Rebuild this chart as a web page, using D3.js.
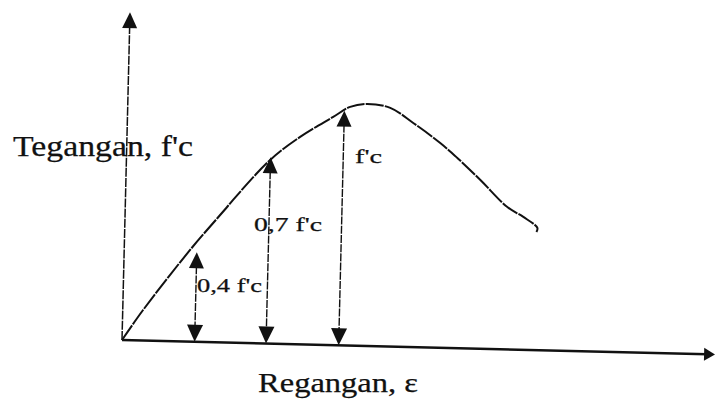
<!DOCTYPE html>
<html><head><meta charset="utf-8">
<script src="https://cdn.jsdelivr.net/npm/d3@7"></script>
<style>html,body{margin:0;padding:0;background:#fff;}svg{display:block;}</style>
</head><body>
<svg id="c" width="715" height="404"></svg>
<script>
// curve: strain (‰-like units) vs stress (fraction of f'c)
const strain = [0, 0.168, 0.544, 0.841, 0.889, 1.187, 1.430, 1.699, 1.837, 1.977, 2.168, 2.361, 2.588, 2.732, 2.927, 3.155, 3.289, 3.407, 3.40];
const stress = [0, 0.126, 0.379, 0.560, 0.590, 0.759, 0.857, 0.943, 0.986, 1.000, 0.986, 0.926, 0.846, 0.786, 0.697, 0.588, 0.549, 0.505, 0.488];
// vertical arrows
const arrowStrain = [0.60, 1.19, 1.79];
const arrowStress = [0.37, 0.77, 0.97];
const arrowLabels = ["0,4 f'c", "0,7 f'c", "f'c"];
// axis extents and titles
const axisMax = {strain: 4.9, stress: 1.355};
const yTitle = "Tegangan, f'c";
const xTitle = "Regangan, \u03b5";

const svg = d3.select("#c");
svg.append("rect").attr("width",715).attr("height",404).attr("fill","#fff");

const x = d3.scaleLinear().domain([0, 4.84]).range([0, 586]);
const y = d3.scaleLinear().domain([0, 1]).range([0, -242]);

const g = svg.append("g").attr("transform","translate(122,340) rotate(1.4)");
const ink = "#111";

// y axis
g.append("line").attr("x1",x(0)).attr("y1",y(0)).attr("x2",x(0)).attr("y2",y(axisMax.stress)+10)
  .attr("stroke",ink).attr("stroke-width",1.5).attr("stroke-dasharray","9,1.2");
const yt = y(axisMax.stress);
g.append("path").attr("d",`M${x(0)},${yt} L${x(0)-7.5},${yt+16} L${x(0)+7.5},${yt+16} Z`).attr("fill",ink);

// x axis
const xe = x(axisMax.strain);
g.append("line").attr("x1",x(0)).attr("y1",y(0)).attr("x2",xe-8).attr("y2",y(0))
  .attr("stroke",ink).attr("stroke-width",2.6);
g.append("path").attr("d",`M${xe},${y(0)} L${xe-11},${y(0)-6.5} L${xe-11},${y(0)+6.5} Z`).attr("fill",ink);

// curve
const pts = strain.map((s,i)=>[s, stress[i]]);
const line = d3.line().x(d=>x(d[0])).y(d=>y(d[1])).curve(d3.curveCatmullRom);
g.append("path").attr("d",line(pts)).attr("fill","none").attr("stroke",ink)
  .attr("stroke-width",2).attr("stroke-dasharray","18,1.2");

// vertical arrows
arrowStrain.forEach((s,i)=>{
  const ax = x(s), top = y(arrowStress[i]), bot = y(0);
  g.append("line").attr("x1",ax).attr("y1",top+14).attr("x2",ax).attr("y2",bot-14)
    .attr("stroke",ink).attr("stroke-width",1.4).attr("stroke-dasharray","8,1.2");
  g.append("path").attr("d",`M${ax},${top} L${ax-7.5},${top+16} L${ax+7.5},${top+16} Z`).attr("fill",ink);
  g.append("path").attr("d",`M${ax},${bot} L${ax-8},${bot-17} L${ax+8},${bot-17} Z`).attr("fill",ink);
});

const font = "'Liberation Serif','Times New Roman',serif";
function label(txt, px, py, size, len){
  svg.append("text").attr("x",px).attr("y",py).attr("font-family",font).attr("font-size",size)
    .attr("fill",ink).attr("stroke",ink).attr("stroke-width",0.25)
    .attr("textLength",len).attr("lengthAdjust","spacingAndGlyphs").text(txt);
}
label(yTitle, 13, 156, 29, 180);
label(xTitle, 258, 392, 28, 160);
label(arrowLabels[0], 197, 292, 19, 65);
label(arrowLabels[1], 254, 231, 19, 68);
label(arrowLabels[2], 355, 163, 19, 27);
</script>
</body></html>
